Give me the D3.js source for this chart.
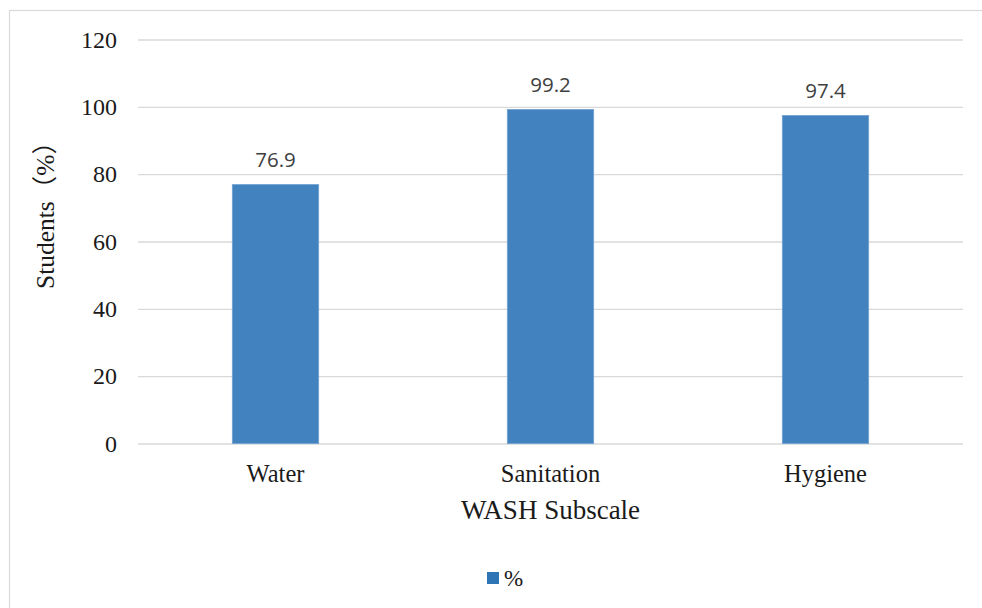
<!DOCTYPE html>
<html>
<head>
<meta charset="utf-8">
<script src="https://cdn.jsdelivr.net/npm/d3@7"></script>
<style>
  html, body { margin: 0; padding: 0; background: #fff; }
  svg { display: block; }
</style>
</head>
<body>
<svg id="chart" width="982" height="608"></svg>
<script>
// WASH subscale: share of students (%)
const categories = ["Water", "Sanitation", "Hygiene"];
const percentValues = [76.9, 99.2, 97.4];
const yTicks = [0, 20, 40, 60, 80, 100, 120];
const seriesName = "%";

const svg = d3.select("#chart");
const W = 982, H = 608;
const plot = { left: 138, right: 963, top: 39.5, bottom: 443.5 };

// outer chart frame
svg.append("rect")
  .attr("x", 9.5).attr("y", 10.5)
  .attr("width", W + 10).attr("height", H + 10)
  .attr("fill", "none").attr("stroke", "#d9d9d9").attr("stroke-width", 1.2);

const x = d3.scaleBand()
  .domain(categories)
  .range([plot.left, plot.right])
  .paddingInner(0.686)
  .paddingOuter(0.343);

const y = d3.scaleLinear().domain([0, 120]).range([plot.bottom, plot.top]);

// horizontal gridlines + tick labels
const yAxis = d3.axisLeft(y).tickValues(yTicks)
  .tickSize(-(plot.right - plot.left)).tickPadding(21);
const gy = svg.append("g").attr("transform", `translate(${plot.left},0)`).call(yAxis);
gy.select(".domain").remove();
gy.selectAll(".tick line").attr("stroke", "#d9d9d9").attr("stroke-width", 1.3);
gy.selectAll(".tick text")
  .attr("font-family", "'Liberation Serif', 'Times New Roman', serif")
  .attr("font-size", 24).attr("fill", "#1a1a1a");

// bars
svg.append("g").selectAll("rect")
  .data(categories)
  .join("rect")
  .attr("x", d => x(d))
  .attr("y", (d, i) => y(percentValues[i]))
  .attr("width", x.bandwidth())
  .attr("height", (d, i) => y(0) - y(percentValues[i]))
  .attr("fill", "#4282be")
  .attr("stroke", "#6fa0d2").attr("stroke-width", 0.8);

// value labels
svg.append("g").selectAll("text")
  .data(categories)
  .join("text")
  .attr("x", d => x(d) + x.bandwidth() / 2)
  .attr("y", (d, i) => y(percentValues[i]) - 18)
  .attr("text-anchor", "middle")
  .attr("font-family", "'Open Sans', 'Noto Sans', sans-serif")
  .attr("font-size", 20.5).attr("fill", "#404040")
  .text((d, i) => percentValues[i].toFixed(1));

// category axis labels
const xAxis = d3.axisBottom(x).tickSize(0).tickPadding(21);
const gx = svg.append("g").attr("transform", `translate(0,${plot.bottom})`).call(xAxis);
gx.select(".domain").remove();
gx.selectAll(".tick text")
  .attr("font-family", "'Liberation Serif', 'Times New Roman', serif")
  .attr("font-size", 24.5).attr("fill", "#1a1a1a");

// axis titles
svg.append("text")
  .attr("x", (plot.left + plot.right) / 2).attr("y", 519)
  .attr("text-anchor", "middle")
  .attr("font-family", "'Liberation Serif', 'Times New Roman', serif")
  .attr("font-size", 27).attr("fill", "#1a1a1a")
  .text("WASH Subscale");

svg.append("text")
  .attr("transform", "translate(54,209) rotate(-90)")
  .attr("text-anchor", "middle")
  .attr("font-family", "'Liberation Serif', 'Times New Roman', 'Noto Sans CJK SC', serif")
  .attr("font-size", 25.5).attr("fill", "#1a1a1a")
  .text("Students（%）");

// legend
const lg = svg.append("g").attr("transform", "translate(487,572)");
lg.append("rect").attr("width", 12).attr("height", 12).attr("fill", "#2e75b6");
lg.append("text")
  .attr("x", 17).attr("y", 13.5)
  .attr("font-family", "'Liberation Serif', 'Times New Roman', serif")
  .attr("font-size", 23).attr("fill", "#1a1a1a")
  .text(seriesName);
</script>
</body>
</html>
